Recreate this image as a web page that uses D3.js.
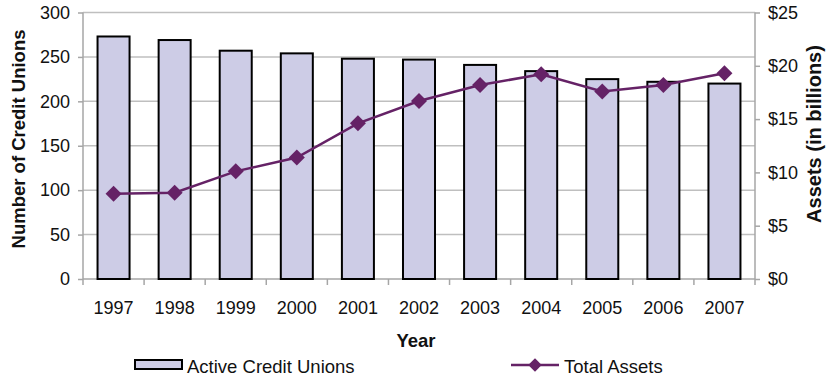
<!DOCTYPE html>
<html>
<head>
<meta charset="utf-8">
<script src="https://cdn.jsdelivr.net/npm/d3@7"></script>
<style>
  html, body { margin: 0; padding: 0; background: #fff; }
  svg { display: block; font-family: "Liberation Sans", Arial, sans-serif; }
</style>
</head>
<body>
<svg id="chart" width="826" height="379"></svg>
<script>
// Credit unions active each year and their combined assets
const years = ["1997","1998","1999","2000","2001","2002","2003","2004","2005","2006","2007"];
const activeCreditUnions = [273, 269, 257, 254, 248, 247, 241, 234, 225, 222, 220];
const totalAssets = [8.0, 8.1, 10.1, 11.4, 14.6, 16.7, 18.2, 19.2, 17.6, 18.2, 19.3]; // $ billions
const leftTicks = [0, 50, 100, 150, 200, 250, 300];
const rightTicks = [0, 5, 10, 15, 20, 25];

const svg = d3.select("#chart");
const plot = { left: 83, right: 755, top: 12.5, bottom: 279 };

const x = d3.scaleBand().domain(years).range([plot.left, plot.right])
  .paddingInner(0.476).paddingOuter(0.238);
const yL = d3.scaleLinear().domain([0, 300]).range([plot.bottom, plot.top]);
const yR = d3.scaleLinear().domain([0, 25]).range([plot.bottom, plot.top]);

const gridColor = "#BFBFBF";
const axisColor = "#A6A6A6";
const barFill = "#CDCCE6";
const lineColor = "#652266";

// horizontal gridlines
svg.append("g").selectAll("line").data(leftTicks.filter(d => d > 0)).join("line")
  .attr("x1", plot.left).attr("x2", plot.right)
  .attr("y1", d => yL(d)).attr("y2", d => yL(d))
  .attr("stroke", gridColor).attr("stroke-width", 1.5);

// left axis
const leftAxis = svg.append("g").attr("transform", `translate(${plot.left},0)`)
  .call(d3.axisLeft(yL).tickValues(leftTicks).tickSize(5).tickPadding(8));
// right axis
const rightAxis = svg.append("g").attr("transform", `translate(${plot.right},0)`)
  .call(d3.axisRight(yR).tickValues(rightTicks).tickSize(5).tickPadding(8)
    .tickFormat(d => "$" + d));
// bottom axis with ticks between categories
const step = x.step();
const boundaries = d3.range(years.length + 1).map(i => plot.left + i * step);
const bottomAxis = svg.append("g").attr("transform", `translate(0,${plot.bottom})`)
  .call(d3.axisBottom(x).tickSize(0).tickPadding(22));
bottomAxis.selectAll("line.sep").data(boundaries).join("line")
  .attr("class", "sep")
  .attr("x1", d => d).attr("x2", d => d).attr("y1", 0).attr("y2", 6)
  .attr("stroke", axisColor).attr("stroke-width", 1.5);

[leftAxis, rightAxis, bottomAxis].forEach(g => {
  g.select(".domain").attr("stroke", axisColor).attr("stroke-width", 1.5);
  g.selectAll(".tick line").attr("stroke", axisColor).attr("stroke-width", 1.5);
  g.selectAll(".tick text").attr("fill", "#111").attr("font-size", "18px")
    .attr("font-family", "Liberation Sans, Arial, sans-serif");
});
bottomAxis.select(".domain").attr("d", `M${plot.left},0H${plot.right}`);
leftAxis.select(".domain").attr("d", `M0,${plot.top}V${plot.bottom}`);
rightAxis.select(".domain").attr("d", `M0,${plot.top}V${plot.bottom}`);

// bars
svg.append("g").selectAll("rect").data(years).join("rect")
  .attr("x", d => x(d))
  .attr("width", x.bandwidth())
  .attr("y", (d, i) => yL(activeCreditUnions[i]))
  .attr("height", (d, i) => plot.bottom - yL(activeCreditUnions[i]))
  .attr("fill", barFill).attr("stroke", "#000").attr("stroke-width", 2);

// assets line
const cx = d => x(d) + x.bandwidth() / 2;
svg.append("path")
  .datum(years)
  .attr("fill", "none").attr("stroke", lineColor).attr("stroke-width", 2.5)
  .attr("d", d3.line().x(d => cx(d)).y((d, i) => yR(totalAssets[i])));

const diamond = d3.symbol(d3.symbolSquare, 128);
svg.append("g").selectAll("path").data(years).join("path")
  .attr("d", diamond)
  .attr("transform", (d, i) => `translate(${cx(d)},${yR(totalAssets[i])}) rotate(45)`)
  .attr("fill", lineColor);

// axis titles
svg.append("text")
  .attr("transform", `translate(25,139) rotate(-90)`)
  .attr("text-anchor", "middle").attr("font-weight", "bold").attr("font-size", "18.5px")
  .attr("fill", "#111").text("Number of Credit Unions");
svg.append("text")
  .attr("transform", `translate(821,134) rotate(-90)`)
  .attr("text-anchor", "middle").attr("font-weight", "bold").attr("font-size", "20px")
  .attr("fill", "#111").text("Assets (in billions)");
svg.append("text")
  .attr("x", 416).attr("y", 347)
  .attr("text-anchor", "middle").attr("font-weight", "bold").attr("font-size", "18.5px")
  .attr("fill", "#111").text("Year");

// legend
const legend = svg.append("g");
legend.append("rect").attr("x", 135).attr("y", 360).attr("width", 47).attr("height", 9)
  .attr("fill", barFill).attr("stroke", "#000").attr("stroke-width", 2);
legend.append("text").attr("x", 187).attr("y", 373).attr("font-size", "18.5px")
  .attr("fill", "#111").text("Active Credit Unions");
legend.append("line").attr("x1", 511).attr("x2", 559).attr("y1", 365).attr("y2", 365)
  .attr("stroke", lineColor).attr("stroke-width", 2.5);
legend.append("path").attr("d", d3.symbol(d3.symbolSquare, 90))
  .attr("transform", "translate(535,365) rotate(45)").attr("fill", lineColor);
legend.append("text").attr("x", 564).attr("y", 373).attr("font-size", "18.5px")
  .attr("fill", "#111").text("Total Assets");
</script>
</body>
</html>
